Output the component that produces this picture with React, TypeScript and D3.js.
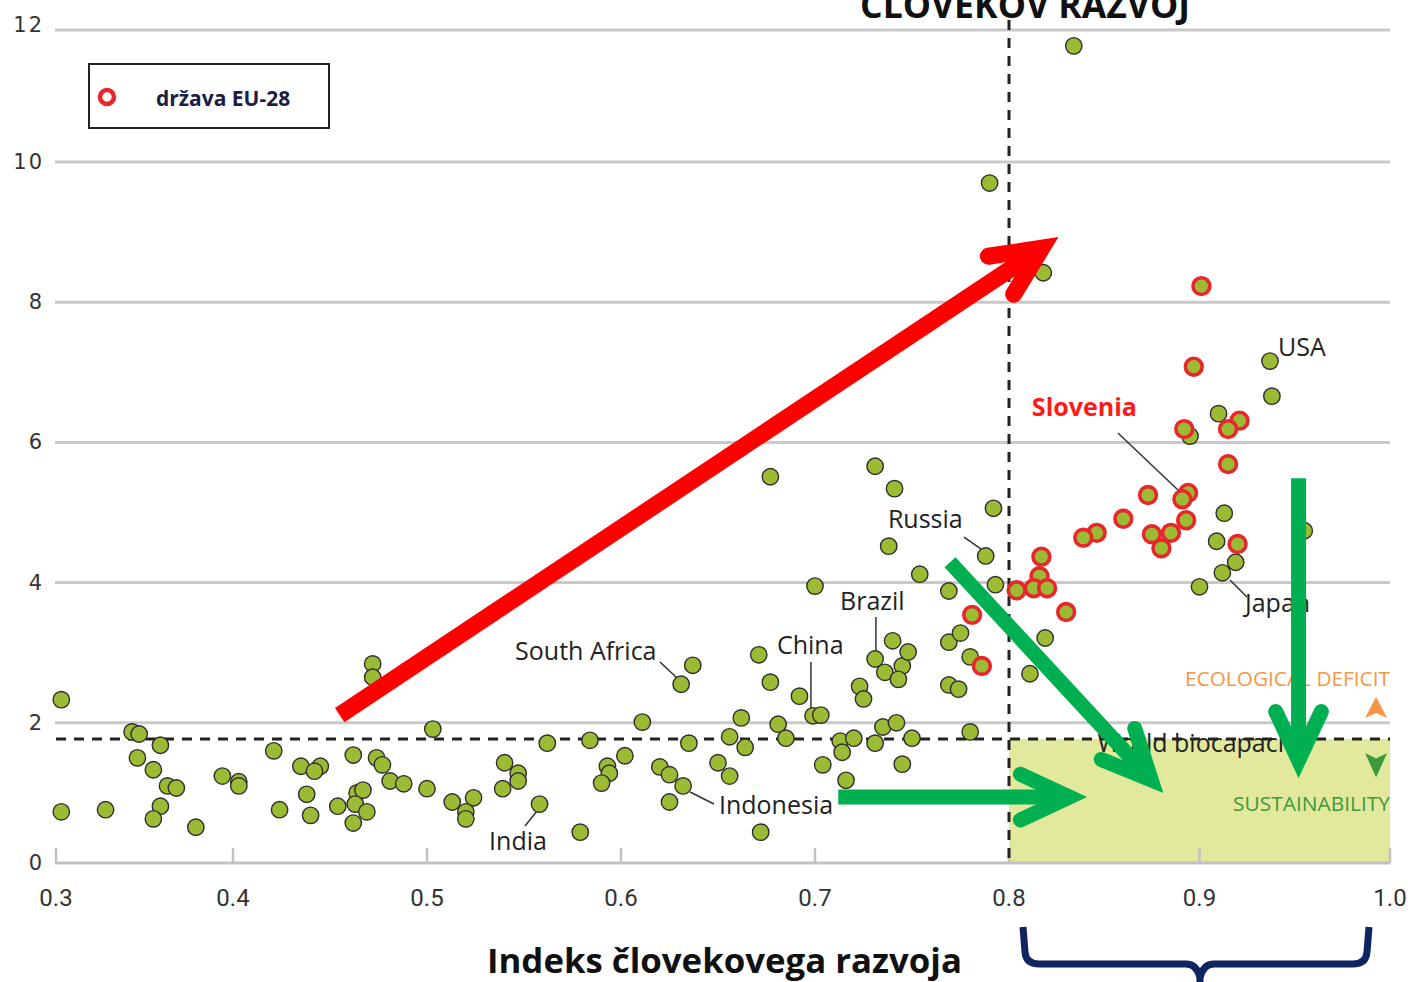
import React from 'react';
import * as d3 from 'd3';

// ---------- data ----------
const xTicks = [0.3, 0.4, 0.5, 0.6, 0.7, 0.8, 0.9, 1.0];
const xTickLabels = ['0.3', '0.4', '0.5', '0.6', '0.7', '0.8', '0.9', '1.0'];
const yTicks = [0, 2, 4, 6, 8, 10, 12];
const worldBiocapacity = 1.77;
const hdiThreshold = 0.8;

// [HDI, ecological footprint]
const countries: [number, number][] = [
  [0.303, 2.33], [0.303, 0.73], [0.328, 0.76], [0.343, 1.87], [0.347, 1.84], [0.359, 1.68],
  [0.346, 1.50], [0.355, 1.33], [0.363, 1.10], [0.368, 1.07], [0.359, 0.81], [0.355, 0.63],
  [0.379, 0.51], [0.394, 1.24], [0.403, 1.16], [0.403, 1.10], [0.421, 1.60], [0.424, 0.76],
  [0.435, 1.38], [0.445, 1.38], [0.442, 1.31], [0.438, 0.98], [0.440, 0.68], [0.462, 1.54],
  [0.454, 0.81], [0.464, 1.00], [0.467, 1.04], [0.463, 0.84], [0.469, 0.73], [0.462, 0.57],
  [0.474, 1.50], [0.477, 1.40], [0.472, 2.84], [0.472, 2.65], [0.481, 1.17], [0.488, 1.13],
  [0.500, 1.06], [0.503, 1.91], [0.513, 0.87], [0.524, 0.93], [0.520, 0.73], [0.520, 0.63],
  [0.540, 1.43], [0.547, 1.28], [0.547, 1.17], [0.539, 1.06], [0.558, 0.84], [0.562, 1.71],
  [0.584, 1.75], [0.602, 1.53], [0.593, 1.38], [0.594, 1.28], [0.590, 1.14], [0.579, 0.44],
  [0.611, 2.01], [0.631, 2.55], [0.637, 2.82], [0.635, 1.71], [0.620, 1.37], [0.625, 1.26],
  [0.632, 1.10], [0.625, 0.87], [0.650, 1.43], [0.656, 1.24], [0.656, 1.80], [0.664, 1.65],
  [0.662, 2.07], [0.671, 2.97], [0.677, 2.58], [0.677, 5.51], [0.672, 0.44], [0.681, 1.98],
  [0.685, 1.78], [0.692, 2.38], [0.699, 2.10], [0.703, 2.11], [0.700, 3.95], [0.704, 1.40],
  [0.713, 1.74], [0.720, 1.78], [0.714, 1.58], [0.716, 1.18], [0.731, 1.71], [0.723, 2.52],
  [0.725, 2.34], [0.735, 1.94], [0.742, 2.00], [0.750, 1.78], [0.745, 1.41], [0.731, 2.91],
  [0.745, 2.81], [0.736, 2.72], [0.743, 2.62], [0.740, 3.17], [0.748, 3.01], [0.769, 3.15],
  [0.775, 3.28], [0.780, 2.94], [0.769, 2.54], [0.774, 2.48], [0.780, 1.87], [0.731, 5.66],
  [0.741, 5.34], [0.738, 4.52], [0.754, 4.12], [0.788, 4.38], [0.792, 5.06], [0.769, 3.88],
  [0.793, 3.97], [0.790, 9.70], [0.834, 11.76], [0.818, 8.42], [0.819, 3.21], [0.811, 2.70],
  [0.937, 7.16], [0.938, 6.66], [0.910, 6.41], [0.895, 6.09], [0.913, 4.99], [0.909, 4.59],
  [0.919, 4.29], [0.912, 4.14], [0.900, 3.94], [0.955, 4.74],
];

// EU-28 member states
const euCountries: [number, number][] = [
  [0.901, 8.23], [0.897, 7.08], [0.921, 6.31], [0.915, 6.19], [0.892, 6.19], [0.915, 5.69],
  [0.894, 5.28], [0.891, 5.19], [0.873, 5.25], [0.860, 4.91], [0.893, 4.89], [0.846, 4.71],
  [0.839, 4.64], [0.875, 4.69], [0.885, 4.71], [0.880, 4.49], [0.920, 4.55], [0.817, 4.37],
  [0.816, 4.09], [0.813, 3.92], [0.820, 3.92], [0.804, 3.89], [0.830, 3.58], [0.781, 3.54],
  [0.786, 2.81],
];

const labelNames = ['USA', 'Slovenia', 'Russia', 'Brazil', 'China', 'South Africa', 'Indonesia', 'India', 'Japan'];
const labelX = [0.9412, 0.812, 0.7376, 0.7129, 0.6804, 0.5454, 0.6505, 0.532, 0.9239];
const labelY = [7.23, 6.38, 4.78, 3.61, 2.98, 2.90, 0.70, 0.185, 3.58];

// leader lines [x1, y1, x2, y2]
const leaders: [number, number, number, number][] = [
  [0.8572, 6.134, 0.8898, 5.292],
  [0.7768, 4.65, 0.7871, 4.45],
  [0.7314, 3.51, 0.7314, 3.01],
  [0.6979, 2.867, 0.6979, 2.211],
  [0.6201, 2.867, 0.6289, 2.639],
  [0.5505, 0.528, 0.5567, 0.742],
  [0.6479, 0.842, 0.6356, 1.013],
  [0.9249, 3.795, 0.916, 4.037],
];

// arrows [x1, y1, x2, y2]
const redArrows: [number, number, number, number][] = [[0.455, 2.11, 0.826, 8.93]];
const greenArrows: [number, number, number, number][] = [
  [0.7696, 4.29, 0.881, 1.0],
  [0.712, 0.94, 0.841, 0.94],
  [0.952, 5.49, 0.952, 1.21],
];

// ---------- scales ----------
const x = d3.scaleLinear().domain([0.3, 0.4, 0.8, 1.0]).range([56, 233, 1009, 1390]);
const y = d3.scaleLinear().domain([0, 10, 12]).range([863, 162, 30]);

const GREEN_FILL = '#9cbb35';
const POINT_STROKE = '#2e2e2e';

function Arrow({ a, color, width }: { a: [number, number, number, number]; color: string; width: number }) {
  const x1 = x(a[0]), y1 = y(a[1]), vx = x(a[2]), vy = y(a[3]);
  const ang = Math.atan2(vy - y1, vx - x1);
  const ha = (25 * Math.PI) / 180;
  // move the path tip back so that the mitred outer point lands on the visual tip
  const off = width / 2 / Math.sin(ha);
  const x2 = vx - off * Math.cos(ang), y2 = vy - off * Math.sin(ang);
  const back = ang + Math.PI;
  const hl = 54;
  const w1 = [x2 + hl * Math.cos(back - ha), y2 + hl * Math.sin(back - ha)];
  const w2 = [x2 + hl * Math.cos(back + ha), y2 + hl * Math.sin(back + ha)];
  const sx2 = x2 - width * 0.5 * Math.cos(ang);
  const sy2 = y2 - width * 0.5 * Math.sin(ang);
  return (
    <g>
      <line x1={x1} y1={y1} x2={sx2} y2={sy2} stroke={color} strokeWidth={width} strokeLinecap="butt" />
      <path
        d={`M${w1[0]},${w1[1]}L${x2},${y2}L${w2[0]},${w2[1]}`}
        fill="none"
        stroke={color}
        strokeWidth={width}
        strokeLinecap="round"
        strokeLinejoin="miter"
        strokeMiterlimit={6}
      />
    </g>
  );
}

export default function App() {
  const x0 = x(0.3), x1 = x(1.0);
  const yBio = y(worldBiocapacity);
  const xHdi = x(hdiThreshold);
  const braceL = 1023, braceR = 1369, braceTop = 927, braceMid = 964, braceC = 1200;
  const triX = x(0.9927);
  return (
    <svg
      width={1408}
      height={982}
      viewBox="0 0 1408 982"
      style={{ position: 'absolute', left: 0, top: 0, background: '#fff' }}
    >
      <rect x={0} y={0} width={1408} height={982} fill="#fff" />
      <defs>
        <clipPath id="bioClip">
          <rect x={1000} y={700} width={286} height={80} />
        </clipPath>
      </defs>

      {/* sustainability quadrant */}
      <rect x={xHdi} y={yBio} width={x1 - xHdi} height={y(0) - yBio} fill="#e2e99c" />

      {/* gridlines */}
      {yTicks.filter((t) => t > 0).map((t) => (
        <line key={t} x1={x0 - 1} x2={x1} y1={y(t)} y2={y(t)} stroke="#c9c9c9" strokeWidth={3} />
      ))}
      {/* baseline & x ticks */}
      <line x1={x0 - 1} x2={x1} y1={y(0)} y2={y(0)} stroke="#c2c2c2" strokeWidth={3} />
      {xTicks.map((t) => (
        <line key={t} x1={x(t)} x2={x(t)} y1={y(0) - 15} y2={y(0)} stroke="#c2c2c2" strokeWidth={2.5} />
      ))}

      {/* y tick labels */}
      {yTicks.map((t) => (
        <text
          key={t}
          x={44}
          y={y(t) + (t === 12 ? 2 : 7)}
          textAnchor="end"
          fontFamily="DejaVu Sans, Verdana, sans-serif"
          fontSize={21}
          letterSpacing={2}
          fill="#333"
        >
          {t}
        </text>
      ))}
      {/* x tick labels */}
      {xTicks.map((t, i) => (
        <text
          key={t}
          x={x(t)}
          y={906}
          textAnchor="middle"
          fontFamily="Roboto, sans-serif"
          fontSize={24}
          fill="#333"
        >
          {xTickLabels[i]}
        </text>
      ))}

      {/* threshold lines */}
      <line x1={x0} x2={x1} y1={yBio} y2={yBio} stroke="#222" strokeWidth={3} strokeDasharray="10,8" />
      <line x1={xHdi} x2={xHdi} y1={20} y2={y(0)} stroke="#222" strokeWidth={3} strokeDasharray="10,8" />

      {/* world biocapacity text */}
      <text
        x={x(0.8465)}
        y={y(1.58)}
        fontFamily="Open Sans, sans-serif"
        fontSize={25}
        fill="#222"
        clipPath="url(#bioClip)"
      >
        World biocapacity
      </text>

      {/* deficit / sustainability */}
      <text x={x1} y={y(2.525)} textAnchor="end" fontFamily="Open Sans, sans-serif" fontSize={20} fill="#f79646" textLength={205} lengthAdjust="spacingAndGlyphs">
        ECOLOGICAL DEFICIT
      </text>
      <path
        d={`M${triX},${y(2.37)}L${triX + 11},${y(2.07)}L${triX},${y(2.14)}L${triX - 11},${y(2.07)}Z`}
        fill="#f79646"
      />
      <path
        d={`M${triX - 11},${y(1.57)}L${triX},${y(1.49)}L${triX + 11},${y(1.57)}L${triX},${y(1.22)}Z`}
        fill="#3c9a3c"
      />
      <text x={x1} y={y(0.742)} textAnchor="end" fontFamily="Open Sans, sans-serif" fontSize={20} fill="#3c9a3c" textLength={157} lengthAdjust="spacingAndGlyphs">
        SUSTAINABILITY
      </text>

      {/* leader lines */}
      {leaders.map((l, i) => (
        <line key={i} x1={x(l[0])} y1={y(l[1])} x2={x(l[2])} y2={y(l[3])} stroke="#333" strokeWidth={1.5} />
      ))}

      {/* points */}
      {countries.map((d, i) => (
        <circle key={i} cx={x(d[0])} cy={y(d[1])} r={8.2} fill={GREEN_FILL} stroke={POINT_STROKE} strokeWidth={1.4} />
      ))}
      {euCountries.map((d, i) => (
        <circle key={'eu' + i} cx={x(d[0])} cy={y(d[1])} r={8.4} fill={GREEN_FILL} stroke="#e8262c" strokeWidth={3.6} />
      ))}

      {/* country labels */}
      {labelNames.map((n, i) => (
        <text
          key={n}
          x={x(labelX[i])}
          y={y(labelY[i])}
          fontFamily="Open Sans, sans-serif"
          fontSize={25}
          fontWeight={n === 'Slovenia' ? 700 : 400}
          fill={n === 'Slovenia' ? '#ff1a1a' : '#222'}
        >
          {n}
        </text>
      ))}

      {/* arrows */}
      {redArrows.map((a, i) => (
        <Arrow key={'r' + i} a={a} color="#ff0000" width={17} />
      ))}
      {greenArrows.map((a, i) => (
        <Arrow key={'g' + i} a={a} color="#00b050" width={15} />
      ))}

      {/* legend */}
      <rect x={89} y={64} width={240} height={64} fill="#fff" stroke="#222" strokeWidth={2} />
      <circle cx={107} cy={97} r={7} fill="#fff" stroke="#e8262c" strokeWidth={4.5} />
      <text x={156} y={106} fontFamily="Open Sans, sans-serif" fontWeight={700} fontSize={21} fill="#1c1c48">
        država EU-28
      </text>

      {/* title (cut by the top edge, as in the reference) */}
      <text x={860} y={18} fontFamily="Open Sans, sans-serif" fontWeight={700} fontSize={36} fill="#111" textLength={330} lengthAdjust="spacingAndGlyphs">
        ČLOVEKOV RAZVOJ
      </text>
      <text x={1192} y={6} fontFamily="Open Sans, sans-serif" fontWeight={700} fontSize={18} fill="#111">
        **
      </text>

      {/* x axis title */}
      <text x={487} y={973} fontFamily="Open Sans, sans-serif" fontWeight={700} fontSize={34} fill="#111" textLength={475} lengthAdjust="spacingAndGlyphs">
        Indeks človekovega razvoja
      </text>

      {/* brace */}
      <path
        d={`M${braceL},${braceTop}L${braceL + 2},${braceMid - 12}Q${braceL + 3},${braceMid} ${braceL + 16},${braceMid}L${braceC - 14},${braceMid}Q${braceC - 3},${braceMid} ${braceC},${braceMid + 14}L${braceC},990
           M${braceR},${braceTop}L${braceR - 2},${braceMid - 12}Q${braceR - 3},${braceMid} ${braceR - 16},${braceMid}L${braceC + 14},${braceMid}Q${braceC + 3},${braceMid} ${braceC},${braceMid + 14}`}
        fill="none"
        stroke="#0e2561"
        strokeWidth={7}
        strokeLinejoin="round"
      />
    </svg>
  );
}
